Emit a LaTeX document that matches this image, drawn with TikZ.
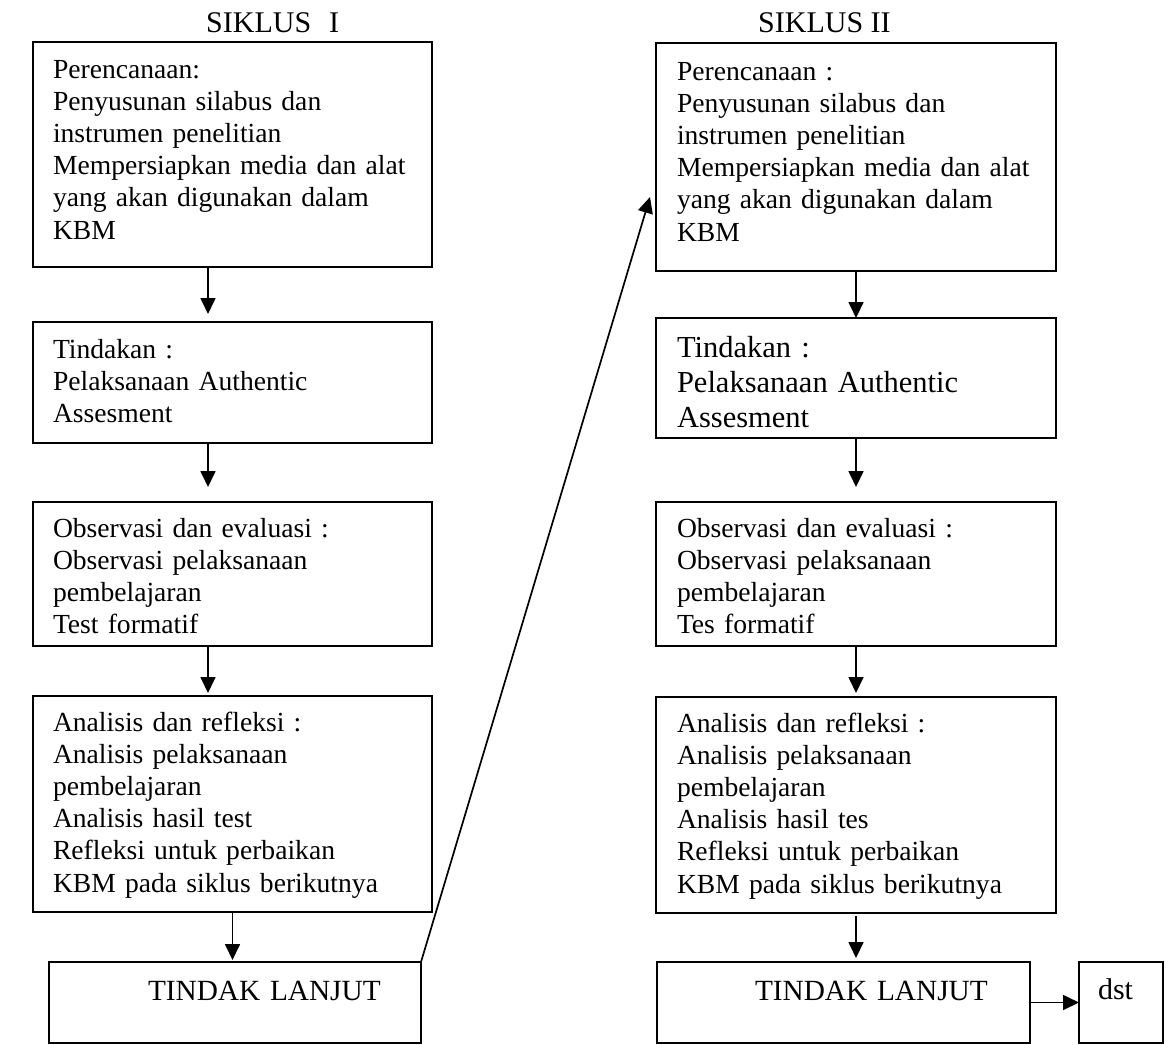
\documentclass[tikz,border=0pt]{standalone}
\usepackage{fontspec}
\setmainfont{Liberation Serif}
\usetikzlibrary{arrows.meta}
\begin{document}
\begin{tikzpicture}[x=1pt,y=-1pt,
  box/.style={draw, line width=1.8pt, anchor=north west, inner ysep=0pt, outer sep=0pt, align=left, font=\fontsize{27.6}{32.2}\selectfont},
  bx/.style n args={4}{inner xsep=#1, text width=#2, text height=#3, text depth=#4},
  arr/.style={line width=1.7pt, -{Triangle[length=16pt,width=15pt]}},
  title/.style={anchor=base west, inner sep=0pt, font=\fontsize{30}{34}\selectfont}]
\useasboundingbox (0,0) rectangle (1166,1044);

\node[title] (t1) at (206,32) {SIKLUS\hspace{18pt}I};
\node[title] (t2) at (758,32) {SIKLUS II};

% left column
\node[box, bx={20pt}{359pt}{36pt}{189pt}] (L1) at (33,42) {Perencanaan:\\Penyusunan silabus dan\\instrumen penelitian\\Mempersiapkan media dan alat\\yang akan digunakan dalam\\KBM};
\node[box, bx={20pt}{359pt}{36pt}{85pt}] (L2) at (33,322) {Tindakan :\\Pelaksanaan Authentic\\Assesment};
\node[box, bx={20pt}{359pt}{35pt}{109pt}] (L3) at (33,502) {Observasi dan evaluasi :\\Observasi pelaksanaan\\pembelajaran\\Test formatif};
\node[box, bx={20pt}{359pt}{35pt}{181pt}] (L4) at (33,696) {Analisis dan refleksi :\\Analisis pelaksanaan\\pembelajaran\\Analisis hasil test\\Refleksi untuk perbaikan\\KBM pada siklus berikutnya};
\node[box, bx={0pt}{372pt}{38pt}{43pt}, font=\fontsize{29.3}{34}\selectfont] (L5) at (49,962) {\hspace*{99pt}TINDAK LANJUT};

% right column
\node[box, bx={21pt}{358pt}{37pt}{191pt}] (R1) at (656,43) {Perencanaan :\\Penyusunan silabus dan\\instrumen penelitian\\Mempersiapkan media dan alat\\yang akan digunakan dalam\\KBM};
\node[box, bx={21pt}{358pt}{39pt}{81pt}, font=\fontsize{30.5}{35}\selectfont] (R2) at (656,318) {Tindakan :\\Pelaksanaan Authentic\\Assesment};
\node[box, bx={21pt}{358pt}{35pt}{109pt}] (R3) at (656,502) {Observasi dan evaluasi :\\Observasi pelaksanaan\\pembelajaran\\Tes formatif};
\node[box, bx={21pt}{358pt}{35pt}{181pt}] (R4) at (656,697) {Analisis dan refleksi :\\Analisis pelaksanaan\\pembelajaran\\Analisis hasil tes\\Refleksi untuk perbaikan\\KBM pada siklus berikutnya};
\node[box, bx={0pt}{373pt}{38pt}{43pt}, font=\fontsize{29.3}{34}\selectfont] (R5) at (657,962) {\hspace*{98pt}TINDAK LANJUT};
\node[box, bx={0pt}{84pt}{37pt}{44pt}, font=\fontsize{30}{34}\selectfont] (dst) at (1079,962) {\hspace*{19pt}dst};

\coordinate (tipR) at (650,197);

% connectors left
\draw[arr, shorten >=8pt] ([xshift=-24.5pt]L1.south) -- ([xshift=-24.5pt]L2.north);
\draw[arr, shorten >=15pt] ([xshift=-24.5pt]L2.south) -- ([xshift=-24.5pt]L3.north);
\draw[arr, shorten >=3pt] ([xshift=-24.5pt]L3.south) -- ([xshift=-24.5pt]L4.north);
\draw[arr, shorten >=2pt] (L4.south) -- (L4.south |- L5.north);
% connectors right
\draw[arr] (R1.south) -- (R2.north);
\draw[arr, shorten >=15pt] (R2.south) -- (R3.north);
\draw[arr, shorten >=4pt] (R3.south) -- (R4.north);
\draw[arr, shorten >=4pt, shorten <=3pt] (R4.south) -- (R4.south |- R5.north);
\draw[arr] (R5.east) -- (dst.west);
% cycle link
\draw[arr] (L5.north east) -- (tipR);
\end{tikzpicture}
\end{document}
